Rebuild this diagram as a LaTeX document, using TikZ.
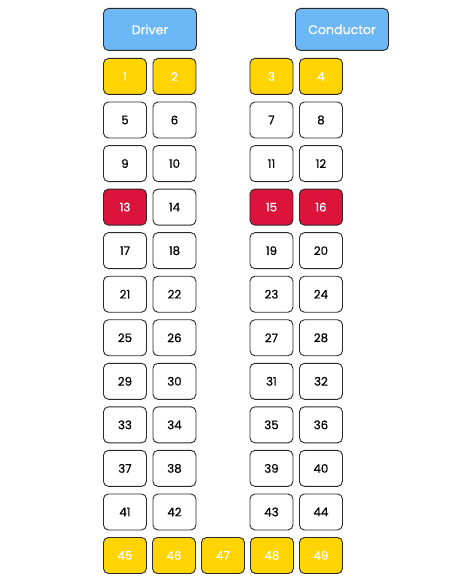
\documentclass[tikz,border=0pt]{standalone}
\usepackage{fontspec}
\setmainfont{Poppins}[FakeBold=0.5]
\definecolor{cabblue}{HTML}{6CB8F6}
\definecolor{seatgold}{HTML}{FFD400}
\definecolor{seatred}{HTML}{DC143C}
\definecolor{edgegray}{HTML}{2A2A2A}
\begin{document}
\begin{tikzpicture}[x=1pt,y=-1pt,
  base/.style={draw=edgegray,line width=0.9pt,rounded corners=5pt,anchor=north west,inner sep=0pt,font=\fontsize{11.8}{13}\selectfont},
  seat/.style={base,minimum width=43pt,minimum height=36pt},
  free/.style={seat,fill=white,text=black},
  gold/.style={seat,fill=seatgold,text=white},
  booked/.style={seat,fill=seatred,text=white},
  cab/.style={base,fill=cabblue,text=white,minimum width=93pt,minimum height=42pt,font=\fontsize{12.6}{14}\selectfont}]
\useasboundingbox (0,0) rectangle (454,583);
\node[cab] (driver) at (103,8) {Driver};
\node[cab] (conductor) at (295,8) {Conductor};
% columns
\def\cA{103}\def\cB{152.5}\def\cC{249.5}\def\cD{299}
\foreach \r in {0,...,10}{
  \pgfmathsetmacro{\yy}{58+43.55*\r}
  \pgfmathtruncatemacro{\na}{4*\r+1}
  \pgfmathtruncatemacro{\nb}{4*\r+2}
  \pgfmathtruncatemacro{\nc}{4*\r+3}
  \pgfmathtruncatemacro{\nd}{4*\r+4}
  \ifnum\r=0
    \node[gold] (s\na) at (\cA,\yy) {\na};
    \node[gold] (s\nb) at (\cB,\yy) {\nb};
    \node[gold] (s\nc) at (\cC,\yy) {\nc};
    \node[gold] (s\nd) at (\cD,\yy) {\nd};
  \else\ifnum\r=3
    \node[booked] (s\na) at (\cA,\yy) {\na};
    \node[free] (s\nb) at (\cB,\yy) {\nb};
    \node[booked] (s\nc) at (\cC,\yy) {\nc};
    \node[booked] (s\nd) at (\cD,\yy) {\nd};
  \else
    \node[free] (s\na) at (\cA,\yy) {\na};
    \node[free] (s\nb) at (\cB,\yy) {\nb};
    \node[free] (s\nc) at (\cC,\yy) {\nc};
    \node[free] (s\nd) at (\cD,\yy) {\nd};
  \fi\fi
}
\node[gold] (s45) at (103,537) {45};
\node[gold] (s46) at (152,537) {46};
\node[gold] (s47) at (201,537) {47};
\node[gold] (s48) at (250,537) {48};
\node[gold] (s49) at (299,537) {49};
\end{tikzpicture}
\end{document}
